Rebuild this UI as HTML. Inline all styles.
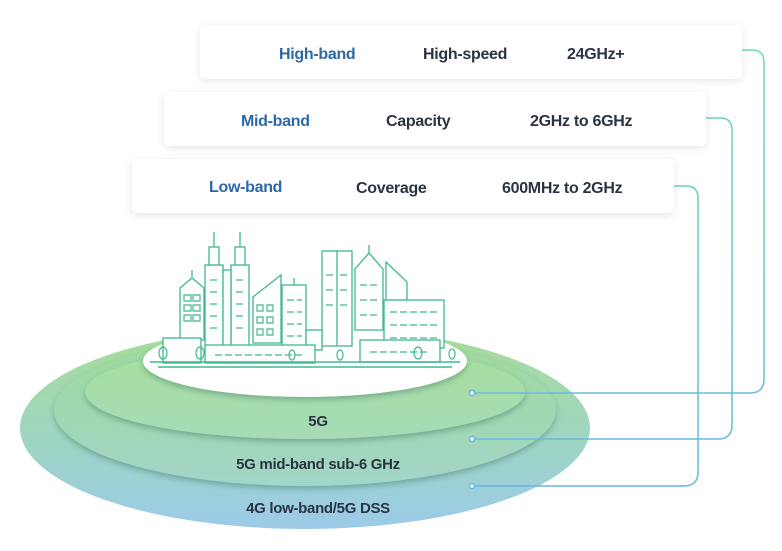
<!DOCTYPE html>
<html><head><meta charset="utf-8"><style>
body{margin:0;background:#fff;width:782px;height:546px;overflow:hidden;font-family:"Liberation Sans",sans-serif}
</style></head><body>
<svg width="782" height="546" viewBox="0 0 782 546" xmlns="http://www.w3.org/2000/svg">
<defs>
<linearGradient id="g1" x1="0" y1="0" x2="0" y2="1"><stop offset="0" stop-color="#a8dc98"/><stop offset="0.5" stop-color="#9fd6bd"/><stop offset="1" stop-color="#9ccbe9"/></linearGradient>
<linearGradient id="g2" x1="0" y1="0" x2="0" y2="1"><stop offset="0" stop-color="#9fd89a"/><stop offset="1" stop-color="#a2d6c8"/></linearGradient>
<linearGradient id="g3" x1="0" y1="0" x2="0" y2="1"><stop offset="0" stop-color="#a8de9c"/><stop offset="1" stop-color="#a6dbb7"/></linearGradient>
<linearGradient id="ln" gradientUnits="userSpaceOnUse" x1="0" y1="40" x2="0" y2="490"><stop offset="0" stop-color="#6fd8b8"/><stop offset="1" stop-color="#66b6e2"/></linearGradient>
<filter id="sh" x="-10%" y="-30%" width="120%" height="170%"><feDropShadow dx="0" dy="2" stdDeviation="4" flood-color="#000" flood-opacity="0.1"/></filter>
<filter id="es" x="-10%" y="-20%" width="120%" height="150%"><feDropShadow dx="0" dy="3" stdDeviation="3" flood-color="#2f6a5a" flood-opacity="0.4"/></filter>
</defs>
<ellipse cx="305" cy="428" rx="285" ry="101" fill="url(#g1)"/>
<ellipse cx="305" cy="410" rx="251" ry="76" fill="url(#g2)" filter="url(#es)"/>
<ellipse cx="305" cy="392" rx="220" ry="47" fill="url(#g3)" filter="url(#es)"/>
<ellipse cx="305" cy="361" rx="162" ry="36" fill="#fff" filter="url(#es)"/>
<g font-weight="bold" font-size="15" fill="#2a3442" text-anchor="middle" letter-spacing="-0.3">
<text x="318" y="426">5G</text>
<text x="318" y="469">5G mid-band sub-6 GHz</text>
<text x="318" y="513">4G low-band/5G DSS</text>
</g>
<g fill="none" stroke="url(#ln)" stroke-width="1.5">
<path d="M472 393 H750 Q764 393 764 379 V62 Q764 50 752 50 H742"/>
<path d="M472 439 H718 Q732 439 732 425 V130 Q732 118 720 118 H706"/>
<path d="M472 486 H684 Q698 486 698 472 V198 Q698 186 686 186 H674"/>
</g>
<g fill="#fff" stroke="#6ab4e0" stroke-width="1.5">
<circle cx="472" cy="393" r="2.5"/><circle cx="472" cy="439" r="2.5"/><circle cx="472" cy="486" r="2.5"/>
</g>
<g filter="url(#sh)" fill="#fff">
<rect x="200" y="25" width="542" height="54" rx="5"/>
<rect x="164" y="92" width="542" height="54" rx="5"/>
<rect x="132" y="159" width="542" height="54" rx="5"/>
</g>
<g font-weight="bold" font-size="16" fill="#2a3442" letter-spacing="-0.3">
<text x="279" y="59" fill="#2b69a7">High-band</text><text x="423" y="59">High-speed</text><text x="567" y="59">24GHz+</text>
<text x="241" y="126" fill="#2b69a7">Mid-band</text><text x="386" y="126">Capacity</text><text x="530" y="126">2GHz to 6GHz</text>
<text x="209" y="192" fill="#2b69a7">Low-band</text><text x="356" y="193">Coverage</text><text x="502" y="193">600MHz to 2GHz</text>
</g>
<g fill="#fff" stroke="#3fb88f" stroke-width="1.3">
<path d="M180 340 V288 L192 278 L204 288 V340 Z"/><line x1="192" y1="278" x2="192" y2="270"/>
<rect x="205" y="265" width="18" height="88"/><rect x="209" y="247" width="10" height="18"/><line x1="214" y1="247" x2="214" y2="232"/>
<rect x="231" y="265" width="18" height="88"/><rect x="235" y="247" width="10" height="18"/><line x1="240" y1="247" x2="240" y2="232"/>
<rect x="223" y="270" width="8" height="80"/>
<path d="M253 343 V297 L281 275 V343 Z"/>
<rect x="282" y="285" width="24" height="62"/><line x1="294" y1="285" x2="294" y2="278"/>
<rect x="322" y="251" width="30" height="95"/><line x1="337" y1="251" x2="337" y2="346"/>
<rect x="306" y="330" width="16" height="20"/>
<path d="M355 330 V269 L369 253 L383 269 V330 Z"/><line x1="369" y1="253" x2="369" y2="245"/>
<path d="M386 300 V262 L407 282 V300 Z"/>
<rect x="384" y="300" width="60" height="48"/>
<rect x="163" y="338" width="38" height="25"/>
<rect x="205" y="345" width="110" height="18"/>
<rect x="360" y="340" width="80" height="22"/>
</g>
<g stroke="#3fb88f" stroke-width="1.2" stroke-dasharray="7 3">
<path d="M210 280h10M236 280h10M210 292h10M236 292h10M210 304h10M236 304h10M210 316h10M236 316h10M210 328h10M236 328h10M287 300h15M287 312h15M287 324h15M287 336h15M326 275h10M340 275h10M326 290h10M340 290h10M326 305h10M340 305h10M360 285h18M360 300h18M360 315h18M390 312h50M390 325h50M390 338h50M215 355h90M370 352h60"/>
</g>
<g fill="none" stroke="#3fb88f" stroke-width="1.2">
<path d="M184 295h7v6h-7zM193 295h7v6h-7zM184 305h7v6h-7zM193 305h7v6h-7zM184 315h7v6h-7zM193 315h7v6h-7zM257 305h6v6h-6zM267 305h6v6h-6zM257 317h6v6h-6zM267 317h6v6h-6zM257 329h6v6h-6zM267 329h6v6h-6z"/>
<ellipse cx="163" cy="353" rx="4" ry="6"/><ellipse cx="200" cy="353" rx="4" ry="6"/><ellipse cx="292" cy="355" rx="3" ry="5"/><ellipse cx="340" cy="355" rx="3" ry="5"/><ellipse cx="418" cy="353" rx="4" ry="6"/><ellipse cx="452" cy="354" rx="3" ry="5"/>
</g>
<line x1="150" y1="362" x2="460" y2="362" stroke="#3fb88f" stroke-width="1.5"/>
<line x1="158" y1="367" x2="452" y2="367" stroke="#3fb88f" stroke-width="1.5"/>
</svg>
</body></html>
